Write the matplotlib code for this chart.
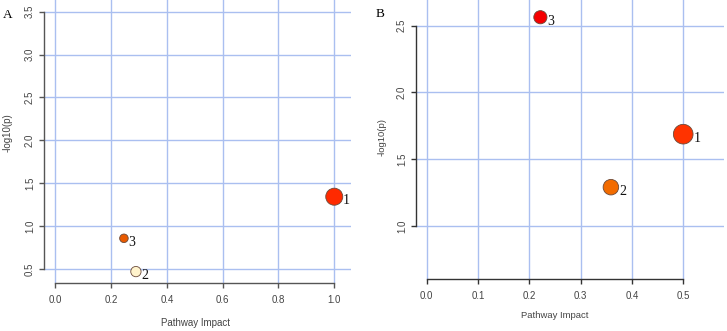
import matplotlib

matplotlib.use("Agg")
import matplotlib.pyplot as plt
import numpy as np

# ---------------------------------------------------------------------------
# Data
# ---------------------------------------------------------------------------
labels_a = ["1", "2", "3"]
impact_a = [1.0, 0.289, 0.246]
logp_a = [1.343, 0.47, 0.858]

labels_b = ["1", "2", "3"]
impact_b = [0.5, 0.359, 0.2215]
logp_b = [1.687, 1.29, 2.563]

xticks_a = [0.0, 0.2, 0.4, 0.6, 0.8, 1.0]
yticks_a = [0.5, 1.0, 1.5, 2.0, 2.5, 3.0, 3.5]
xticks_b = [0.0, 0.1, 0.2, 0.3, 0.4, 0.5]
yticks_b = [1.0, 1.5, 2.0, 2.5]

# styling (not data)
colors_a = ["#ff2a00", "#fff3cc", "#e85a00"]
sizes_a = [150, 55, 38]
colors_b = ["#ff3300", "#f26b00", "#f50000"]
sizes_b = [200, 125, 90]

W, H = 727, 331
GRID = "#aabff0"
TXT = "#444444"
SANS = "Liberation Sans"
SERIF = "Liberation Serif"

fig = plt.figure(figsize=(W / 100, H / 100), dpi=100)


def px_axes(left, right, top, bottom):
    return fig.add_axes([left / W, 1 - bottom / H, (right - left) / W, (bottom - top) / H])


def style_panel(ax, xt, yt, xlim, ylim, axis_color):
    ax.set_xlim(xlim)
    ax.set_ylim(ylim)
    ax.set_xticks(xt)
    ax.set_yticks(yt)
    ax.set_xticklabels([f"{v:.1f}" for v in xt], fontfamily=SANS, fontsize=7, color=TXT)
    ax.set_yticklabels([f"{v:.1f}" for v in yt], fontfamily=SANS, fontsize=7, color=TXT,
                       rotation=90, va="center")
    for s in ("top", "right"):
        ax.spines[s].set_visible(False)
    ax.spines["left"].set_bounds(yt[0], yt[-1])
    ax.spines["bottom"].set_bounds(xt[0], xt[-1])
    for s in ("left", "bottom"):
        ax.spines[s].set_color(axis_color)
        ax.spines[s].set_linewidth(1.0)
    ax.tick_params(axis="x", direction="out", length=3.6, width=1.0, color=axis_color, pad=5)
    ax.tick_params(axis="y", direction="out", length=3.6, width=1.0, color=axis_color, pad=3)
    ax.grid(True, color=GRID, linewidth=1.0)
    ax.set_axisbelow(True)
    ax.patch.set_alpha(0)


def draw_points(ax, xs, ys, labs, cols, sizes):
    ax.scatter(xs, ys, s=sizes, c=cols, edgecolors="#6a4a3a", linewidths=0.6, zorder=3)
    for x, y, lab, s in zip(xs, ys, labs, sizes):
        r = np.sqrt(s) / 2
        ax.annotate(lab, (x, y), xytext=(r + 0.3, -3), textcoords="offset points",
                    ha="left", va="center", fontfamily=SERIF, fontsize=10, color="#111111")


# Panel A
ax_a = px_axes(44, 351, 0, 283)
style_panel(ax_a, xticks_a, yticks_a, (-0.0405, 1.06), (0.337, 3.636), "#555555")
draw_points(ax_a, impact_a, logp_a, labels_a, colors_a, sizes_a)
fig.text(3 / W, 1 - 15 / H, "A", fontfamily=SERIF, fontsize=9.5, ha="left", va="center")
fig.text(195 / W, 1 - 322.7 / H, "Pathway Impact", fontfamily=SANS, fontsize=7,
         color=TXT, ha="center", va="center")
fig.text(7.3 / W, 1 - 133 / H, "-log10(p)", fontfamily=SANS, fontsize=7, color=TXT,
         ha="center", va="center", rotation=90)

# Panel B
ax_b = px_axes(416, 724, 0, 279.3)
style_panel(ax_b, xticks_b, yticks_b, (-0.021, 0.5795), (0.60, 2.692), "#333333")
draw_points(ax_b, impact_b, logp_b, labels_b, colors_b, sizes_b)
fig.text(376 / W, 1 - 14 / H, "B", fontfamily=SERIF, fontsize=9.5, ha="left", va="center")
fig.text(555 / W, 1 - 316 / H, "Pathway Impact", fontfamily=SANS, fontsize=6.8,
         color=TXT, ha="center", va="center")
fig.text(381.7 / W, 1 - 137 / H, "-log10(p)", fontfamily=SANS, fontsize=6.8, color=TXT,
         ha="center", va="center", rotation=90)

fig.savefig("out.png", dpi=100, facecolor="white")
